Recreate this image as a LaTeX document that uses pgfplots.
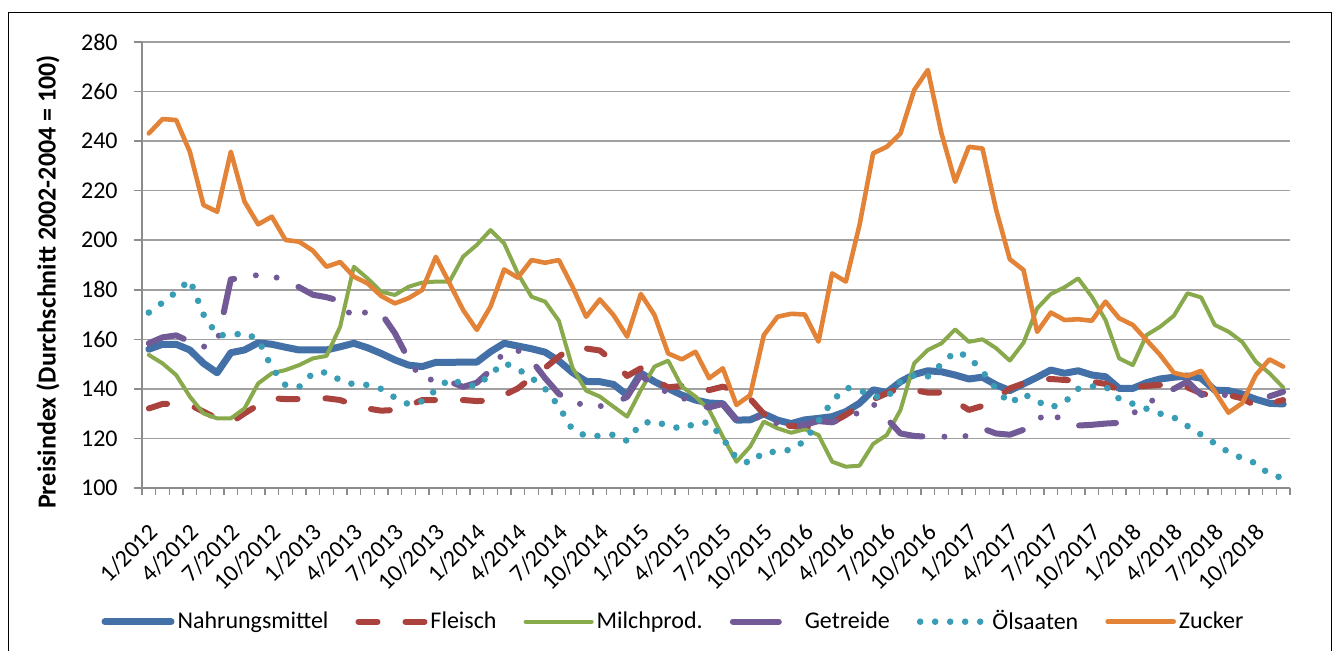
\documentclass[border=0pt]{standalone}
\usepackage{fontspec}
\setmainfont{Carlito}
\usepackage{pgfplots}
\pgfplotsset{compat=1.18}
\usepackage{pgfplotstable}

\definecolor{cN}{RGB}{68,112,168}
\definecolor{cF}{RGB}{170,66,62}
\definecolor{cM}{RGB}{136,170,76}
\definecolor{cG}{RGB}{114,90,150}
\definecolor{cO}{RGB}{58,157,182}
\definecolor{cZ}{RGB}{226,131,56}
\definecolor{gridgray}{RGB}{160,160,160}
\definecolor{axisgray}{RGB}{140,140,140}
\tikzset{legdash/.style={}}

\pgfplotstableread{
i N F M G O Z
0 156.0 132.1 153.7 158.4 170.8 243.1
1 158.0 133.9 150.3 160.8 174.8 248.9
2 158.0 134.0 145.6 161.6 179.1 248.5
3 155.7 133.5 136.9 159.1 184.0 235.7
4 150.3 130.8 130.1 157.0 170.0 214.2
5 146.5 128.1 128.1 158.5 161.7 211.5
6 154.6 126.4 128.1 184.2 161.7 235.7
7 155.7 130.1 132.1 184.9 162.5 215.6
8 158.6 133.5 142.2 186.0 160.0 206.4
9 158.0 136.2 146.3 185.3 148.5 209.5
10 156.8 135.9 147.6 184.2 141.5 200.1
11 155.7 135.9 149.6 181.0 140.8 199.4
12 155.7 135.5 152.3 178.0 146.3 195.8
13 155.7 136.2 153.3 177.0 146.7 189.3
14 157.0 135.5 165.1 175.5 143.5 191.2
15 158.4 133.5 189.3 168.2 141.8 185.3
16 156.6 132.1 184.6 171.4 141.6 182.6
17 154.3 131.2 179.2 170.5 140.0 177.5
18 151.7 131.5 177.9 162.5 136.5 174.5
19 149.6 133.1 181.2 152.0 133.8 176.6
20 149.0 135.5 182.9 143.5 135.0 179.9
21 150.7 135.5 183.3 143.9 139.5 193.3
22 150.7 136.0 183.3 143.0 144.0 182.6
23 150.8 135.5 193.4 140.8 142.0 171.8
24 150.8 135.1 198.1 142.5 141.0 163.8
25 155.0 135.2 204.1 147.5 146.0 173.2
26 158.4 137.5 198.7 155.0 150.5 188.2
27 157.3 140.2 186.6 155.5 148.0 184.9
28 156.2 144.5 177.2 151.5 144.5 192.0
29 154.8 148.5 175.2 144.3 140.0 190.9
30 151.3 153.0 167.5 138.0 133.0 192.0
31 146.6 157.0 148.5 134.5 123.5 181.2
32 143.0 156.3 139.3 133.5 121.0 169.1
33 142.9 155.5 136.9 133.0 121.0 176.1
34 141.8 151.0 132.8 134.0 121.5 169.8
35 137.5 145.2 128.8 136.8 119.0 161.1
36 146.4 148.3 139.5 145.6 126.0 178.3
37 142.9 143.6 149.0 141.0 127.0 169.8
38 140.2 140.6 151.4 138.5 125.0 154.3
39 137.5 141.2 140.9 136.5 124.0 151.9
40 135.5 141.6 136.9 134.0 126.0 155.0
41 134.3 139.5 131.5 132.5 126.5 144.3
42 134.0 140.9 120.7 134.0 120.0 148.3
43 127.4 139.3 110.6 127.4 112.0 133.5
44 127.5 136.0 116.7 127.8 110.0 137.5
45 129.9 129.9 126.8 129.0 114.5 161.7
46 127.4 125.8 124.1 126.0 114.6 169.1
47 126.0 125.0 122.3 124.5 115.5 170.3
48 127.5 124.5 123.7 125.5 119.0 170.0
49 128.1 124.8 121.4 127.0 127.0 159.1
50 128.8 126.4 110.6 126.5 135.0 186.6
51 130.8 129.5 108.6 128.5 140.5 183.3
52 134.2 133.1 109.0 130.5 139.5 206.1
53 139.6 135.8 117.8 134.0 137.0 235.1
54 138.6 138.2 121.4 128.0 136.5 237.7
55 142.9 140.6 131.5 122.0 143.0 243.1
56 145.8 139.5 150.3 121.0 145.5 260.6
57 147.3 138.5 155.7 120.7 145.0 268.7
58 146.9 138.5 158.4 120.7 150.0 243.1
59 145.6 135.0 164.0 120.8 155.0 223.6
60 144.0 131.5 159.0 121.0 153.0 237.7
61 144.7 133.1 160.0 124.0 147.0 237.0
62 141.6 136.0 156.4 122.0 140.0 212.2
63 139.3 140.2 151.4 121.5 134.0 192.3
64 142.0 142.2 158.6 123.5 138.0 188.0
65 144.7 143.6 172.5 127.5 135.0 163.0
66 147.6 144.0 178.3 131.0 132.5 170.8
67 146.3 143.6 181.0 126.0 134.5 167.8
68 147.3 143.3 184.6 125.2 140.0 168.1
69 145.6 142.9 177.2 125.5 141.0 167.5
70 144.9 142.0 167.8 126.0 141.0 175.2
71 140.2 139.5 152.3 126.3 136.0 168.5
72 140.2 140.6 149.6 130.0 134.0 165.8
73 142.5 141.2 161.7 134.0 132.0 159.7
74 144.0 141.6 165.1 137.0 130.0 153.7
75 144.7 142.0 169.5 140.0 128.5 146.5
76 145.2 140.6 178.6 143.0 125.0 145.2
77 144.3 138.2 176.9 137.6 121.5 147.3
78 139.5 136.9 165.8 137.5 118.0 138.9
79 139.3 137.5 163.1 137.5 114.5 130.4
80 137.9 136.2 159.0 138.0 112.0 134.2
81 135.8 133.1 151.0 138.0 110.0 145.6
82 134.2 134.0 146.3 137.0 105.5 151.9
83 133.9 135.5 140.6 138.8 104.0 149.0
}\datatable

\begin{document}
\begin{tikzpicture}
\useasboundingbox (0,0) rectangle (666pt,325.5pt);
\clip (0,0) rectangle (666pt,325.5pt);
\draw[black, line width=0.6pt] (4.35pt,-10pt) rectangle (665.6pt,319.15pt);
\begin{axis}[
  at={(71pt,81.5pt)}, anchor=south west,
  scale only axis, width=574pt, height=223pt,
  xmin=-0.5, xmax=83.5, ymin=100, ymax=280,
  axis lines*=left,
  axis line style={-, axisgray, line width=0.75pt},
  ytick={100,120,...,280},
  ymajorgrids,
  grid style={gridgray, line width=0.75pt},
  tick align=outside,
  major tick length=4pt,
  minor tick length=3.5pt,
  ytick style={axisgray, line width=0.75pt},
  major x tick style={draw=none},
  minor x tick style={axisgray, line width=0.75pt},
  xtick={0,3,...,81},
  minor xtick={-0.5,0.5,...,83.5},
  xticklabels={1/2012,4/2012,7/2012,10/2012,1/2013,4/2013,7/2013,10/2013,1/2014,4/2014,7/2014,10/2014,1/2015,4/2015,7/2015,10/2015,1/2016,4/2016,7/2016,10/2016,1/2017,4/2017,7/2017,10/2017,1/2018,4/2018,7/2018,10/2018},
  /pgf/number format/assume math mode=true,
  yticklabel style={font=\fontsize{12}{14}\selectfont, anchor=east, inner sep=0pt, xshift=-8pt},
  xticklabel style={font=\fontsize{12}{14}\selectfont, inner sep=0pt, xshift=2.5pt, yshift=-16pt, rotate=45, anchor=east},
  ylabel={\bfseries Preisindex (Durchschnitt 2002-2004 = 100)},
  ylabel style={font=\fontsize{13}{15}\selectfont, at={(axis description cs:-0.082,0.462)}, anchor=center},
  legend columns=6,
  legend style={draw=none, fill=none, at={(axis description cs:0.4634,-0.2998)}, anchor=center,
    font=\fontsize{12}{14}\selectfont, nodes={inner sep=1.5pt},
    /tikz/every even column/.append style={column sep=12pt}},
  legend image code/.code={\draw[#1, legdash] (0pt,0pt) -- (33pt,0pt);},
  clip=false,
]
\addplot[cN, line width=3.5pt, line join=round, line cap=round] table[x=i,y=N]{\datatable};
\addlegendentry{Nahrungsmittel}
\addplot[cF, line width=3pt, line join=round, line cap=round, dash pattern=on 9.5pt off 14pt] table[x=i,y=F]{\datatable};
\addlegendentry{Fleisch}
\addplot[cM, line width=2pt, line join=round, line cap=round] table[x=i,y=M]{\datatable};
\addlegendentry{Milchprod.}
\addplot[cG, line width=3pt, line join=round, line cap=round, dash pattern=on 18.5pt off 11pt on 0pt off 10.5pt on 0pt off 12pt,
  legdash/.style={solid, shorten >=10pt}] table[x=i,y=G]{\datatable};
\addlegendentry{Getreide}
\addplot[cO, line width=3.3pt, line cap=round, dash pattern=on 0pt off 7.5pt] table[x=i,y=O]{\datatable};
\addlegendentry{Ölsaaten}
\addplot[cZ, line width=2.3pt, line join=round, line cap=round] table[x=i,y=Z]{\datatable};
\addlegendentry{Zucker}
\end{axis}
\end{tikzpicture}
\end{document}
